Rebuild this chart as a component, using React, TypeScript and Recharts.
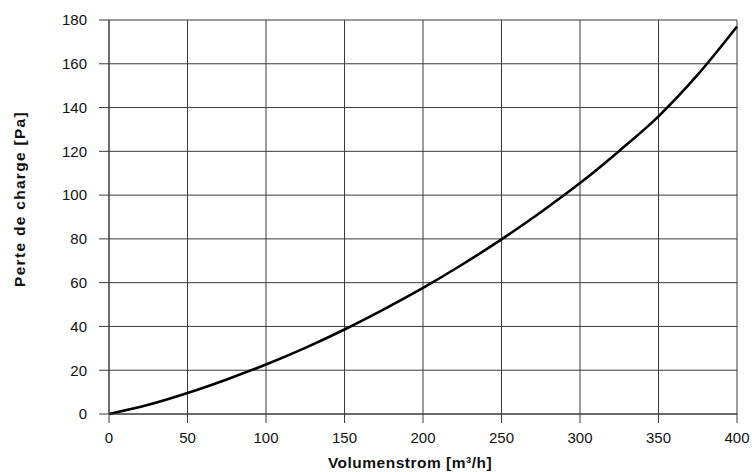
import { LineChart, Line, XAxis, YAxis, CartesianGrid, Label } from 'recharts';

// Volumenstrom [m³/h]
const flow = [0, 25, 50, 75, 100, 125, 150, 175, 200, 225, 250, 275, 300, 325, 350, 375, 400];
// Perte de charge [Pa]
const pressure = [0, 4.2, 9.6, 15.8, 22.6, 30.2, 38.6, 47.8, 57.6, 68.3, 79.8, 92.2, 105.5, 120.2, 136, 155, 177];

const xTicks = [0, 50, 100, 150, 200, 250, 300, 350, 400];
const yTicks = [0, 20, 40, 60, 80, 100, 120, 140, 160, 180];

const data = flow.map((q, i) => ({ q, dp: pressure[i] }));

const font = '"Liberation Sans", Arial, Helvetica, sans-serif';
const gridColor = '#3a3a3a';

const XTitle = (props: any) => {
  const vb = props.viewBox;
  return (
    <text
      x={vb.x + vb.width / 2 - 13}
      y={vb.y + 54}
      textAnchor="middle"
      fontFamily={font}
      fontWeight="bold"
      fontSize={15.5}
      letterSpacing={0.5}
      fill="#111"
    >
      Volumenstrom [m³/h]
    </text>
  );
};

const YTitle = (props: any) => {
  const vb = props.viewBox;
  const cx = 25;
  const cy = vb.y + vb.height / 2 - 18;
  return (
    <text
      x={cx}
      y={cy}
      transform={`rotate(-90 ${cx} ${cy})`}
      textAnchor="middle"
      fontFamily={font}
      fontWeight="bold"
      fontSize={15.5}
      letterSpacing={1.3}
      fill="#111"
    >
      Perte de charge [Pa]
    </text>
  );
};

export default function App() {
  return (
    <div style={{ position: 'absolute', left: 0, top: 0, width: 752, height: 472, background: '#fff' }}>
      <LineChart width={752} height={472} data={data} margin={{ top: 20, right: 15, bottom: 0, left: 49 }}>
        <CartesianGrid stroke={gridColor} strokeWidth={1} horizontalValues={yTicks} verticalValues={xTicks} />
        <XAxis
          dataKey="q"
          type="number"
          domain={[0, 400]}
          ticks={xTicks}
          height={58}
          tickSize={9}
          tickMargin={9}
          interval={0}
          stroke={gridColor}
          tick={{ fill: '#111', fontSize: 15, fontFamily: font }}
        >
          <Label content={XTitle} />
        </XAxis>
        <YAxis
          type="number"
          domain={[0, 180]}
          ticks={yTicks}
          width={60}
          tickSize={10}
          tickMargin={12}
          interval={0}
          stroke={gridColor}
          tick={{ fill: '#111', fontSize: 15, fontFamily: font }}
        >
          <Label content={YTitle} />
        </YAxis>
        <Line
          type="monotone"
          dataKey="dp"
          stroke="#000"
          strokeWidth={2.6}
          dot={false}
          isAnimationActive={false}
        />
      </LineChart>
    </div>
  );
}
